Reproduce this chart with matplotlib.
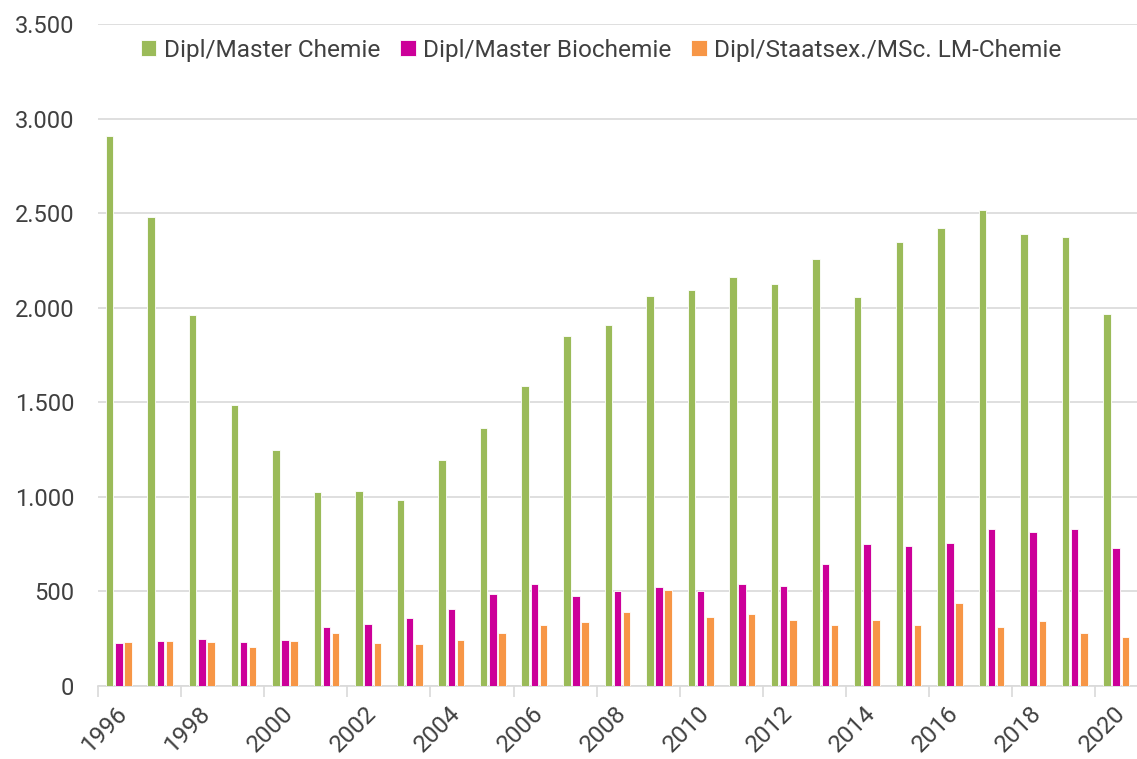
import matplotlib
matplotlib.use("Agg")
import matplotlib.pyplot as plt
from matplotlib.ticker import FuncFormatter
from matplotlib.transforms import ScaledTranslation
import numpy as np

# -------------------------------
# Daten
# -------------------------------
jahre = list(range(1996, 2021))

chemie = [2910, 2478, 1962, 1485, 1248, 1025, 1031, 982, 1195, 1364,
          1585, 1850, 1908, 2060, 2094, 2163, 2126, 2257, 2055, 2346,
          2422, 2517, 2390, 2372, 1966]
biochemie = [226, 240, 250, 233, 243, 312, 326, 361, 407, 488,
             537, 476, 500, 521, 500, 539, 530, 643, 752, 742,
             754, 832, 816, 832, 731]
lm_chemie = [231, 236, 233, 206, 240, 280, 226, 224, 242, 282,
             324, 337, 393, 509, 365, 383, 351, 324, 347, 324,
             441, 312, 346, 279, 257]

serien = ["Dipl/Master Chemie", "Dipl/Master Biochemie", "Dipl/Staatsex./MSc. LM-Chemie"]
farben = ["#9BBB59", "#CC0099", "#F79646"]

plt.rcParams["font.family"] = ["Roboto", "DejaVu Sans"]
textfarbe = "#404040"

fig = plt.figure(figsize=(11.37, 7.59), dpi=100)
ax = fig.add_axes([98 / 1137, 1 - 686 / 759, 1 - 98 / 1137, (686 - 24) / 759])

x = np.arange(len(jahre))
breite = 0.18
abstand = 0.22
for i, (werte, name, farbe) in enumerate(zip([chemie, biochemie, lm_chemie], serien, farben)):
    ax.bar(x + (i - 1) * abstand, werte, width=breite, color=farbe,
           edgecolor="white", linewidth=0.6, label=name, zorder=3)

ax.set_xlim(-0.5, len(jahre) - 0.5)
ax.set_ylim(0, 3500)
ax.set_yticks(range(0, 3501, 500))
ax.yaxis.set_major_formatter(FuncFormatter(lambda v, p: f"{int(v):,}".replace(",", ".")))
ax.grid(axis="y", color="#D9D9D9", linewidth=1.2, zorder=0)
ax.tick_params(axis="y", length=0, pad=17, labelsize=17, labelcolor=textfarbe)

# Beschriftungen jedes zweite Jahr, Striche an den Gruppengrenzen
ax.set_xticks(x[::2])
ax.set_xticklabels([str(j) for j in jahre[::2]], rotation=45, ha="right",
                   rotation_mode="anchor", fontsize=17.5, color=textfarbe)
ax.tick_params(axis="x", which="major", length=0, pad=11)
versatz = ScaledTranslation(-3 / 100, 0, fig.dpi_scale_trans)
for lbl in ax.get_xticklabels():
    lbl.set_transform(lbl.get_transform() + versatz)
ax.set_xticks(np.arange(-0.5, len(jahre) - 0.5, 2), minor=True)
ax.tick_params(axis="x", which="minor", length=8, width=1.2, color="#D9D9D9")

for s in ["top", "right", "left"]:
    ax.spines[s].set_visible(False)
ax.spines["bottom"].set_color("#D9D9D9")
ax.spines["bottom"].set_linewidth(1.2)

fig.legend(loc="center", bbox_to_anchor=(601 / 1137, 1 - 50 / 759), ncol=3,
           frameon=False, fontsize=17.6, handlelength=0.65, handleheight=0.65,
           handletextpad=0.3, columnspacing=0.8, labelcolor=textfarbe)

fig.savefig("out.png", dpi=100)
